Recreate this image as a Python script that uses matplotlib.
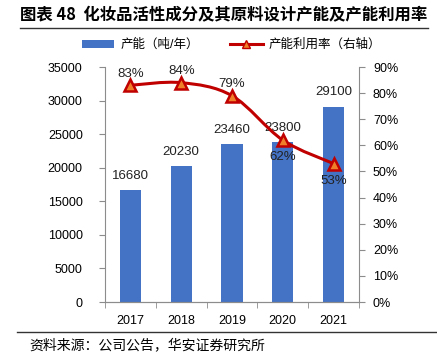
import numpy as np
import matplotlib
matplotlib.use("Agg")
import matplotlib.pyplot as plt
from matplotlib.path import Path
from matplotlib.patches import PathPatch, Patch
from matplotlib.lines import Line2D
from matplotlib.ticker import FuncFormatter

plt.rcParams['font.family'] = ['Liberation Sans', 'Noto Sans CJK SC']

years = ['2017', '2018', '2019', '2020', '2021']
capacity = [16680, 20230, 23460, 23800, 29100]  # 吨/年
util = [0.83, 0.84, 0.79, 0.62, 0.53]  # 产能利用率
util_above = [True, True, True, False, False]

bar_col = '#4472C4'
line_col = '#C00000'
mark_col = '#F07F2A'
axis_col = '#8C8C8C'

fig = plt.figure(figsize=(4.37, 3.62), dpi=100)
ax = fig.add_axes([0.2403, 0.1657, 0.5812, 0.6492])
ax2 = ax.twinx()

x = np.arange(len(years))
ax.bar(x, capacity, width=0.42, color=bar_col, zorder=2)
ax.set_xlim(-0.5, len(years) - 0.5)
ax.set_ylim(0, 35000)
ax.set_yticks(np.arange(0, 35001, 5000))
ax.set_xticks(x)
ax.set_xticklabels(years)
ax.set_xticks(np.arange(-0.5, len(years)), minor=True)
ax.tick_params(axis='x', which='major', length=0, pad=9, labelsize=9)
ax.tick_params(axis='x', which='minor', length=4, color=axis_col, direction='out')
ax.tick_params(axis='y', length=4, color=axis_col, labelsize=9, pad=12)

for xi, v in zip(x, capacity):
    ax.annotate(str(v), (xi, v), xytext=(0, 6), textcoords='offset points',
                ha='center', va='bottom', fontsize=9.5, color='#222222')

# smoothed line (Catmull-Rom style bezier through the data points)
pts = np.column_stack([x, util])
verts = [pts[0]]
codes = [Path.MOVETO]
for i in range(len(pts) - 1):
    p0 = pts[i - 1] if i > 0 else pts[i]
    p1 = pts[i]
    p2 = pts[i + 1]
    p3 = pts[i + 2] if i + 2 < len(pts) else pts[i + 1]
    c1 = p1 + (p2 - p0) / 6.0
    c2 = p2 - (p3 - p1) / 6.0
    verts += [c1, c2, p2]
    codes += [Path.CURVE4] * 3
ax2.add_patch(PathPatch(Path(verts, codes), fill=False, edgecolor=line_col, lw=2.2, zorder=3))
ax2.plot(x, util, linestyle='none', marker='^', markersize=9, markerfacecolor=mark_col,
         markeredgecolor=line_col, markeredgewidth=1.8, zorder=4)
ax2.set_ylim(0, 0.9)
ax2.set_yticks(np.arange(0, 0.91, 0.1))
ax2.yaxis.set_major_formatter(FuncFormatter(lambda v, p: '%d%%' % round(v * 100)))
ax2.tick_params(axis='y', length=4, color=axis_col, labelsize=9, pad=6)

for xi, v, up in zip(x, util, util_above):
    if up:
        ax2.annotate('%d%%' % round(v * 100), (xi, v), xytext=(0, 4), textcoords='offset points',
                     ha='center', va='bottom', fontsize=9.5, color='#222222')
    else:
        ax2.annotate('%d%%' % round(v * 100), (xi, v), xytext=(0, -8), textcoords='offset points',
                     ha='center', va='top', fontsize=9.5, color='#222222')

for a in (ax, ax2):
    a.spines['top'].set_visible(False)
    for s in ('left', 'right', 'bottom'):
        a.spines[s].set_color(axis_col)
ax.spines['right'].set_visible(False)
ax2.spines['left'].set_visible(False)

handles = [Patch(facecolor=bar_col, edgecolor='none'),
           Line2D([0], [0], color=line_col, lw=2.2, marker='^', markersize=6,
                  markerfacecolor=mark_col, markeredgecolor=line_col)]
fig.legend(handles, ['产能（吨/年）', '产能利用率（右轴）'], loc='center',
           bbox_to_anchor=(0.53, 0.876), ncol=2, frameon=False, fontsize=9,
           handlelength=2.6, handleheight=0.6, columnspacing=2.5, handletextpad=0.5)

fig.text(0.045, 0.958, '图表 48  化妆品活性成分及其原料设计产能及产能利用率', fontsize=11.8,
         fontweight='bold', ha='left', va='center', family=['Noto Sans CJK SC', 'DejaVu Sans'])
fig.add_artist(Line2D([0.045, 0.98], [0.922, 0.922], color='#333333', lw=1))
fig.add_artist(Line2D([0.04, 1.0], [0.083, 0.083], color='#333333', lw=1))
fig.text(0.068, 0.047, '资料来源：公司公告，华安证券研究所', fontsize=10, ha='left', va='center',
         family=['Noto Sans CJK SC', 'DejaVu Sans'])

fig.savefig('out.png', dpi=100)
